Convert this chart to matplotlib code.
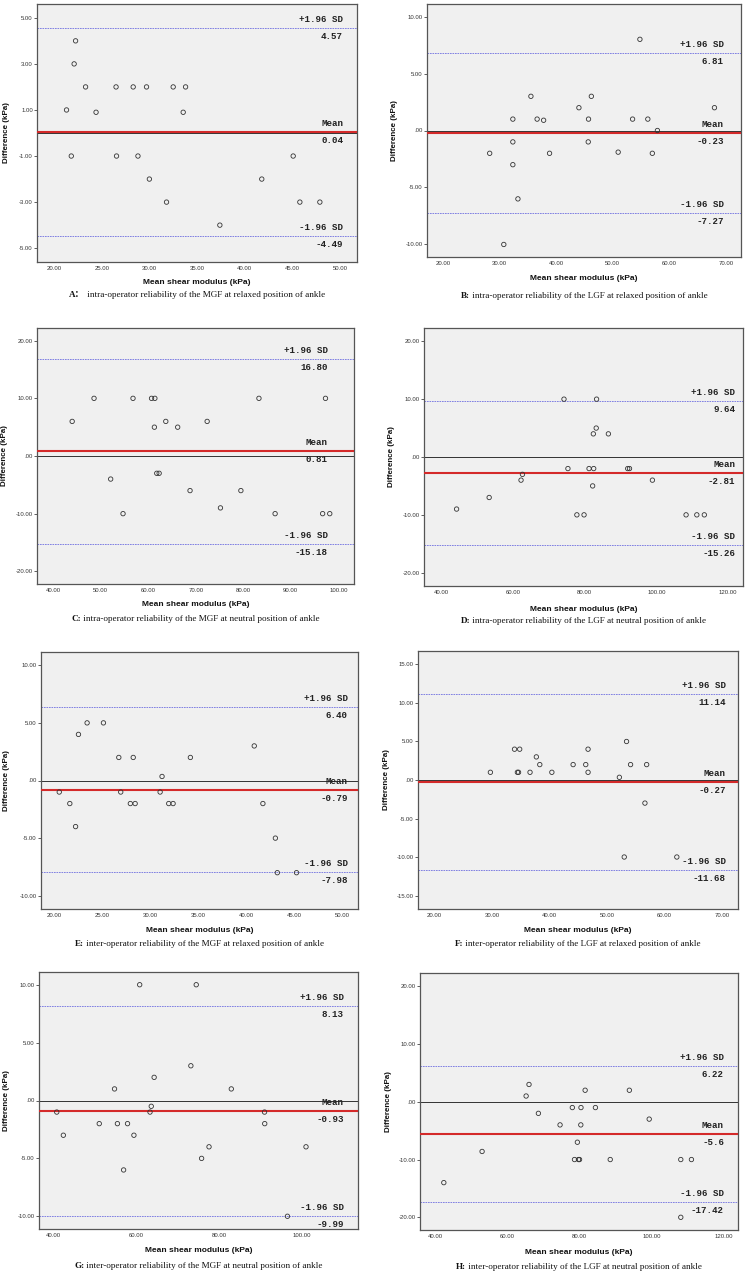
import matplotlib
matplotlib.use("Agg")
import matplotlib.pyplot as plt
from matplotlib.ticker import FuncFormatter
from matplotlib.offsetbox import TextArea, HPacker, AnchoredOffsetbox

# ---- data ----
a_x = [21.3, 21.8, 22.1, 22.25, 23.3, 24.4, 26.5, 26.55, 28.3, 28.8, 29.7, 30.0, 31.8, 32.5, 33.55, 33.8, 37.4, 41.8, 45.1, 45.8, 47.9]
a_y = [1, -1, 3, 4, 2, 0.9, 2, -1, 2, -1, 2, -2, -3, 2, 0.9, 2, -4, -2, -1, -3, -3]
b_x = [54.8, 35.5, 46.2, 44.0, 68.0, 32.3, 36.6, 37.75, 45.7, 53.5, 56.2, 57.9, 28.2, 32.3, 38.8, 45.65, 50.95, 57.0, 32.3, 33.2, 30.7]
b_y = [8, 3, 3, 2, 2, 1, 1, 0.9, 1, 1, 1, 0, -2, -1, -2, -1, -1.9, -2, -3, -6, -10]
c_x = [44.0, 48.6, 56.8, 60.7, 61.4, 61.3, 63.7, 66.2, 72.4, 83.3, 97.3, 61.8, 62.3, 52.1, 54.7, 68.8, 75.2, 79.5, 86.7, 96.7, 98.2]
c_y = [6, 10, 10, 10, 10, 5, 6, 5, 6, 10, 10, -3, -3, -4, -10, -6, -9, -6, -10, -10, -10]
d_x = [44.2, 53.3, 62.2, 62.6, 74.2, 83.3, 75.3, 77.8, 79.8, 81.2, 82.5, 82.4, 83.2, 82.2, 86.6, 92.0, 92.5, 98.9, 108.3, 111.3, 113.4]
d_y = [-9, -7, -4, -3, 10, 10, -2, -10, -10, -2, -2, 4, 5, -5, 4, -2, -2, -4, -10, -10, -10]
e_x = [20.5, 21.6, 22.2, 22.5, 23.4, 25.1, 26.7, 26.9, 27.9, 28.2, 28.4, 31.0, 31.2, 31.9, 32.35, 34.15, 40.8, 41.7, 43.0, 43.2, 45.2]
e_y = [-1, -2, -4, 4, 5, 5, 2, -1, -2, 2, -2, -1, 0.35, -2, -2, 2, 3, -2, -5, -8, -8]
f_x = [29.7, 33.9, 34.8, 34.4, 34.6, 36.6, 37.7, 38.3, 40.4, 44.1, 46.3, 46.7, 46.7, 52.15, 53.4, 54.1, 56.9, 56.6, 53.0, 62.15]
f_y = [1, 4, 4, 1, 1, 1, 3, 2, 1, 2, 2, 4, 1, 0.35, 5, 2, 2, -3, -10, -10]
g_x = [40.7, 42.3, 51.0, 54.7, 55.4, 56.9, 57.85, 59.4, 60.8, 63.3, 63.6, 64.3, 73.2, 74.5, 75.8, 77.6, 83.0, 91.05, 91.1, 96.6, 101.1]
g_y = [-1, -3, -2, 1, -2, -6, -2, -3, 10, -1, -0.5, 2, 3, 10, -5, -4, 1, -1, -2, -10, -4]
h_x = [42.4, 53.0, 65.2, 66.0, 68.6, 74.6, 78.0, 78.6, 79.4, 79.7, 80.0, 80.4, 80.35, 81.55, 84.4, 88.5, 93.8, 99.3, 108.05, 111.0, 108.05]
h_y = [-14, -8.6, 1, 3, -2, -4, -1, -10, -7, -10, -10, -1, -4, 2, -1, -10, 2, -3, -10, -10, -20]

upper = [4.57, 6.81, 16.80, 9.64, 6.40, 11.14, 8.13, 6.22]
means = [0.04, -0.23, 0.81, -2.81, -0.79, -0.27, -0.93, -5.6]
lower = [-4.49, -7.27, -15.18, -15.26, -7.98, -11.68, -9.99, -17.42]
upper_txt = ["4.57", "6.81", "16.80", "9.64", "6.40", "11.14", "8.13", "6.22"]
mean_txt = ["0.04", "-0.23", "0.81", "-2.81", "-0.79", "-0.27", "-0.93", "-5.6"]
lower_txt = ["-4.49", "-7.27", "-15.18", "-15.26", "-7.98", "-11.68", "-9.99", "-17.42"]

tags = ["A：", "B:", "C:", "D:", "E:", "F:", "G:", "H:"]
captions = [
    " intra-operator reliability of the MGF at relaxed position of ankle",
    " intra-operator reliability of the LGF at relaxed position of ankle",
    " intra-operator reliability of the MGF at neutral position of ankle",
    " intra-operator reliability of the LGF at neutral position of ankle",
    " inter-operator reliability of the MGF at relaxed position of ankle",
    " inter-operator reliability of the LGF at relaxed position of ankle",
    " inter-operator reliability of the MGF at neutral position of ankle",
    " inter-operator reliability of the LGF at neutral position of ankle",
]

xticks = [range(20, 51, 5), range(20, 71, 10), range(40, 101, 10), range(40, 121, 20),
          range(20, 51, 5), range(20, 71, 10), range(40, 101, 20), range(40, 121, 20)]
yticks = [[5, 3, 1, -1, -3, -5], range(-10, 11, 5), range(-20, 21, 10), range(-20, 21, 10),
          range(-10, 11, 5), range(-15, 16, 5), range(-10, 11, 5), range(-20, 21, 10)]
xlims = [(18.2, 51.8), (17.1, 72.7), (36.6, 103.3), (35.1, 124.2),
         (18.6, 51.6), (17.1, 72.8), (36.4, 113.7), (35.8, 123.9)]
ylims = [(-5.6, 5.6), (-11.1, 11.1), (-22.2, 22.2), (-22.3, 22.3),
         (-11.15, 11.15), (-16.75, 16.75), (-11.1, 11.1), (-22.2, 22.3)]

xs = [a_x, b_x, c_x, d_x, e_x, f_x, g_x, h_x]
ys = [a_y, b_y, c_y, d_y, e_y, f_y, g_y, h_y]

# ---- layout in pixels (x0, x1, top, bottom), label rows ----
W, H = 749, 1273
boxes = [(37, 357, 4, 262), (427, 741, 4, 257), (37, 354, 328, 584), (424, 743, 328, 586),
         (41, 358, 652, 909), (418, 738, 651, 909), (39, 358, 972, 1229), (420, 738, 973, 1230)]
xlabel_y = [283, 278, 605, 609, 931, 931, 1251, 1252]
caption_y = [295, 296, 619, 621, 944, 944, 1266, 1267]
ylabel_x = [7, 395, 5, 392, 7, 387, 7, 388]
text_pad = [14, 17, 26, 8, 10, 12, 14, 14]

fig = plt.figure(figsize=(W / 100, H / 100), dpi=100)
fig.patch.set_facecolor("white")

fmt = FuncFormatter(lambda v, p: ".00" if abs(v) < 1e-9 else f"{v:.2f}")
mono = dict(family="Liberation Mono", fontsize=6.6, fontweight="bold", color="#222222")

for i in range(8):
    x0, x1, t, b = boxes[i]
    ax = fig.add_axes([x0 / W, 1 - b / H, (x1 - x0) / W, (b - t) / H])
    ax.set_facecolor("#f0f0f0")
    for s in ax.spines.values():
        s.set_color("#555555")
        s.set_linewidth(0.9)

    ax.axhline(0, color="#333333", lw=0.7, zorder=2)
    ax.axhline(means[i], color="#d42a2a", lw=1.5, zorder=3)
    ax.axhline(upper[i], color="#7070e0", lw=0.6, ls=(0, (2, 1)), zorder=2)
    ax.axhline(lower[i], color="#7070e0", lw=0.6, ls=(0, (2, 1)), zorder=2)

    ax.scatter(xs[i], ys[i], s=10, facecolors="none", edgecolors="#333333",
               linewidths=0.6, zorder=4)

    ax.set_xlim(*xlims[i])
    ax.set_ylim(*ylims[i])
    ax.set_xticks(list(xticks[i]))
    ax.set_yticks(list(yticks[i]))
    ax.xaxis.set_major_formatter(fmt)
    ax.yaxis.set_major_formatter(fmt)
    ax.tick_params(axis="y", length=2.5, width=0.6, color="#444444", pad=0.5,
                   labelsize=4.3, labelcolor="#333333")
    ax.tick_params(axis="x", length=0, pad=3, labelsize=4.3, labelcolor="#333333")
    for lab in ax.get_xticklabels() + ax.get_yticklabels():
        lab.set_family("Liberation Sans")

    tr = ax.get_yaxis_transform()
    pairs = [(upper[i], "+1.96 SD", upper_txt[i]), (means[i], "Mean", mean_txt[i]),
             (lower[i], "-1.96 SD", lower_txt[i])]
    for val, head, num in pairs:
        ax.annotate(head, xy=(1, val), xycoords=tr, xytext=(-text_pad[i], 8.5),
                    textcoords="offset pixels", ha="right", va="center", **mono)
        ax.annotate(num, xy=(1, val), xycoords=tr, xytext=(-text_pad[i], -8.5),
                    textcoords="offset pixels", ha="right", va="center", **mono)

    cx = (x0 + x1) / 2 / W
    fig.text(cx, 1 - xlabel_y[i] / H, "Mean shear modulus (kPa)", ha="center", va="center",
             family="Liberation Sans", fontweight="bold", fontsize=6.0, color="#111111")
    fig.text(ylabel_x[i] / W, 1 - (t + b) / 2 / H, "Difference (kPa)", rotation=90,
             ha="center", va="center", family="Liberation Sans", fontweight="bold",
             fontsize=5.8, color="#111111")

    t1 = TextArea(tags[i], textprops=dict(fontsize=6.6, fontweight="bold", color="#111111",
                                          family=["Liberation Serif", "Noto Sans CJK SC"]))
    t2 = TextArea(captions[i], textprops=dict(fontsize=6.6, color="#111111",
                                              family="Liberation Serif"))
    pack = HPacker(children=[t1, t2], align="baseline", pad=0, sep=0)
    box = AnchoredOffsetbox(loc="center", child=pack, bbox_to_anchor=(cx, 1 - caption_y[i] / H),
                            bbox_transform=fig.transFigure, frameon=False, pad=0, borderpad=0)
    fig.add_artist(box)

fig.savefig("out.png", dpi=100, facecolor="white")
